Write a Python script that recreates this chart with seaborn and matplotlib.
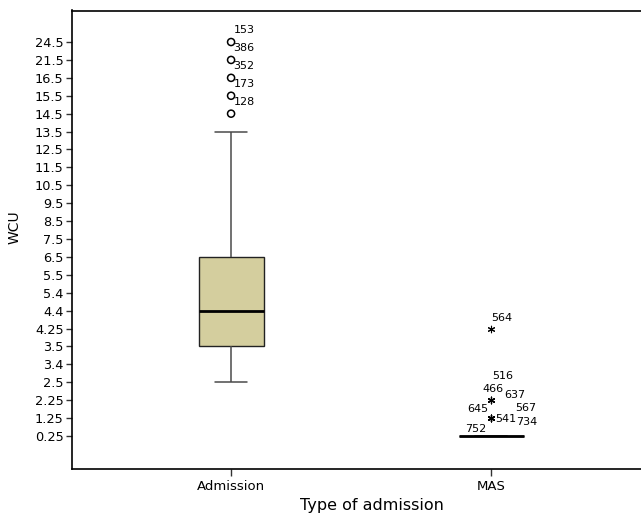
import numpy as np
import pandas as pd
import seaborn as sns
import matplotlib
matplotlib.use('Agg')
import matplotlib.pyplot as plt

# ordinal WCU levels, shown equally spaced on the y axis
wcu_levels = ['0.25', '1.25', '2.25', '2.5', '3.4', '3.5', '4.25', '4.4', '5.4', '5.5',
              '6.5', '7.5', '8.5', '9.5', '10.5', '11.5', '12.5', '13.5', '14.5',
              '15.5', '16.5', '21.5', '24.5']
groups = ['Admission', 'MAS']

# box summaries (min, q1, median, q3, max)
admission_box = ['2.5', '3.5', '4.4', '6.5', '13.5']
mas_box = ['0.25', '0.25', '0.25', '0.25', '0.25']

# outliers (circles) and extremes (stars) with case numbers
admission_outliers = ['24.5', '21.5', '16.5', '15.5', '14.5']
admission_outlier_ids = ['153', '386', '352', '173', '128']
mas_extremes = ['4.25', '2.25', '2.25', '2.25', '1.25', '1.25', '1.25', '1.25', '1.25']
mas_extreme_ids = ['564', '516', '466', '637', '645', '567', '541', '734', '752']

# label offsets in pixels for the case numbers
admission_offsets = [(13, 12)] * 5
mas_offsets = [(11, 11), (12, 24), (2, 11), (24, 5), (-13, 9), (35, 10), (15, -1), (36, -4), (-15, -11)]

pos = {lvl: i for i, lvl in enumerate(wcu_levels)}

box_df = pd.DataFrame({
    'group': ['Admission'] * len(admission_box) + ['MAS'] * len(mas_box),
    'wcu': [pos[v] for v in admission_box + mas_box],
})

sns.set_style('white')
plt.rcParams['font.family'] = ['DejaVu Sans']
plt.rcParams['text.color'] = 'black'
plt.rcParams['axes.labelcolor'] = 'black'
plt.rcParams['xtick.labelcolor'] = 'black'
plt.rcParams['ytick.labelcolor'] = 'black'

fig = plt.figure(figsize=(6.41, 5.16), dpi=100)
ax = fig.add_axes([72 / 641, 1 - 469 / 516, 1 - 72 / 641, (469 - 10.5) / 516])

sns.boxplot(data=box_df, x='group', y='wcu', order=groups, width=0.25, whis=(0, 100),
            showfliers=False, color='#D4CE9E', saturation=1, linecolor='#222222',
            linewidth=1, ax=ax,
            whiskerprops=dict(color='#4a4a4a', linewidth=1.1),
            capprops=dict(color='#4a4a4a', linewidth=1.1),
            medianprops=dict(color='black', linewidth=2))

# outliers for Admission
out_y = [pos[v] for v in admission_outliers]
ax.scatter([0] * len(out_y), out_y, marker='o', s=26, facecolors='none',
           edgecolors='black', linewidths=1.1, zorder=5)
for y, cid, off in zip(out_y, admission_outlier_ids, admission_offsets):
    ax.annotate(cid, (0, y), xytext=off, textcoords='offset pixels',
                ha='center', va='center', fontsize=8, color='black')

# extremes for MAS
ext_y = [pos[v] for v in mas_extremes]
ax.scatter([1] * len(ext_y), ext_y, marker=(6, 2, 0), s=22, color='black',
           linewidths=0.8, zorder=5)
for y, cid, off in zip(ext_y, mas_extreme_ids, mas_offsets):
    ax.annotate(cid, (1, y), xytext=off, textcoords='offset pixels',
                ha='center', va='center', fontsize=8, color='black')

ax.set_xlim(-0.612, 1.577)
ax.set_ylim(-1.84, 23.76)
ax.set_yticks(range(len(wcu_levels)))
ax.set_yticklabels(wcu_levels)

ax.tick_params(axis='y', direction='out', length=4.5, width=1, pad=1.5,
               labelsize=9.3, color='#333333', left=True)
ax.tick_params(axis='x', direction='out', length=5, width=1, pad=3,
               labelsize=9.5, color='#333333', bottom=True)

for side in ['left', 'top', 'bottom']:
    ax.spines[side].set_visible(True)
    ax.spines[side].set_color('black')
    ax.spines[side].set_linewidth(1.2)
ax.spines['right'].set_visible(False)

ax.set_xlabel('Type of admission', fontsize=11.5)
ax.set_ylabel('WCU', fontsize=10)
ax.xaxis.set_label_coords(0.527, -0.064)
ax.yaxis.set_label_coords(-0.088, 0.528)

fig.savefig('out.png', dpi=100)
